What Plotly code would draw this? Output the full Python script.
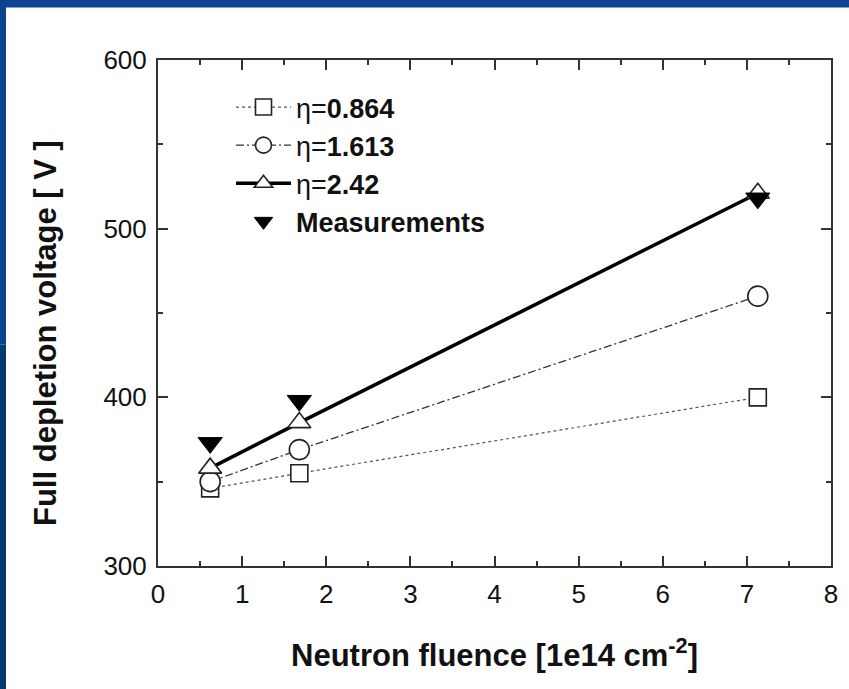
import plotly.graph_objects as go

# Data
fluence = [0.62, 1.68, 7.13]
v_eta_0864 = [346, 355, 400]
v_eta_1613 = [350, 369, 460]
v_eta_242 = [358, 385, 521]
v_meas = [373, 398, 518]

names = ["η=<b>0.864</b>", "η=<b>1.613</b>", "η=<b>2.42</b>", "<b>Measurements</b>"]

x_ticks = [0, 1, 2, 3, 4, 5, 6, 7, 8]
y_ticks = [300, 400, 500, 600]

W, H = 849, 689
L, R, T, B = 158, 18, 60, 123

fig = go.Figure()

fig.add_trace(go.Scatter(
    x=fluence, y=v_eta_0864, name=names[0], mode="lines+markers",
    line=dict(color="#555555", width=1.2, dash="dot"),
    marker=dict(symbol="square", size=17, color="white", line=dict(color="#222", width=1.6)),
))
fig.add_trace(go.Scatter(
    x=fluence, y=v_eta_1613, name=names[1], mode="lines+markers",
    line=dict(color="#333333", width=1.3, dash="8px,3px,2px,3px"),
    marker=dict(symbol="circle", size=20, color="white", line=dict(color="#222", width=1.6)),
))
fig.add_trace(go.Scatter(
    x=fluence, y=v_eta_242, name=names[2], mode="lines+markers",
    line=dict(color="black", width=3.5),
    marker=dict(symbol="triangle-up", size=20, color="white", line=dict(color="#222", width=1.6)),
))
fig.add_trace(go.Scatter(
    x=fluence, y=v_meas, name=names[3], mode="markers",
    marker=dict(symbol="triangle-down", size=21, color="black", line=dict(color="black", width=1)),
))

pw = W - L - R
ph = H - T - B
def px_to_paper_x(px):
    return (px - L) / pw
def py_to_paper_y(py):
    return 1 - (py - T) / ph

# blue slide border strips (top and left)
shapes = [
    dict(type="rect", xref="paper", yref="paper",
         x0=px_to_paper_x(0), x1=px_to_paper_x(W), y0=py_to_paper_y(7.5), y1=py_to_paper_y(0),
         fillcolor="#0c4592", line=dict(width=0), layer="below"),
    dict(type="rect", xref="paper", yref="paper",
         x0=px_to_paper_x(0), x1=px_to_paper_x(6), y0=py_to_paper_y(H / 2), y1=py_to_paper_y(0),
         fillcolor="#09448e", line=dict(width=0), layer="below"),
    dict(type="rect", xref="paper", yref="paper",
         x0=px_to_paper_x(0), x1=px_to_paper_x(6), y0=py_to_paper_y(H), y1=py_to_paper_y(H / 2),
         fillcolor="#043a70", line=dict(width=0), layer="below"),
]

axis_common = dict(
    showline=True, linewidth=2, linecolor="#333333", mirror="allticks",
    ticks="inside", ticklen=10, tickwidth=2, tickcolor="#333333",
    showgrid=False, zeroline=False,
    tickfont=dict(family="Liberation Sans, Arial", size=26, color="#111"),
)

fig.update_layout(
    width=W, height=H,
    margin=dict(l=L, r=R, t=T, b=B),
    paper_bgcolor="white", plot_bgcolor="white",
    shapes=shapes,
    showlegend=True,
    legend=dict(
        x=px_to_paper_x(231), y=py_to_paper_y(83), xanchor="left", yanchor="top",
        bgcolor="rgba(0,0,0,0)", borderwidth=0,
        font=dict(family="Liberation Sans, Arial", size=27, color="#111"),
        itemwidth=55, tracegroupgap=0,
    ),
    xaxis=dict(
        range=[0, 8], tickvals=x_ticks, ticktext=[str(v) for v in x_ticks],
        minor=dict(ticks="inside", ticklen=5, tickwidth=2, tickcolor="#333333", dtick=0.5, showgrid=False),
        title=dict(text="<b>Neutron fluence [1e14 cm<sup>-2</sup>]</b>",
                   font=dict(family="Liberation Sans, Arial", size=31, color="#111"), standoff=36),
        ticklabelstandoff=4,
        **axis_common,
    ),
    yaxis=dict(
        range=[300, 600], tickvals=y_ticks, ticktext=[str(v) for v in y_ticks],
        minor=dict(ticks="inside", ticklen=5, tickwidth=2, tickcolor="#333333", dtick=50, showgrid=False),
        ticklabelstandoff=4,
        **axis_common,
    ),
    annotations=[dict(
        text="<b>Full depletion voltage [ V ]</b>", textangle=-90,
        xref="paper", yref="paper", x=px_to_paper_x(45), y=py_to_paper_y(333),
        xanchor="center", yanchor="middle", showarrow=False,
        font=dict(family="Liberation Sans, Arial", size=31, color="#111"),
    )],
)

fig.write_html("out.html")
